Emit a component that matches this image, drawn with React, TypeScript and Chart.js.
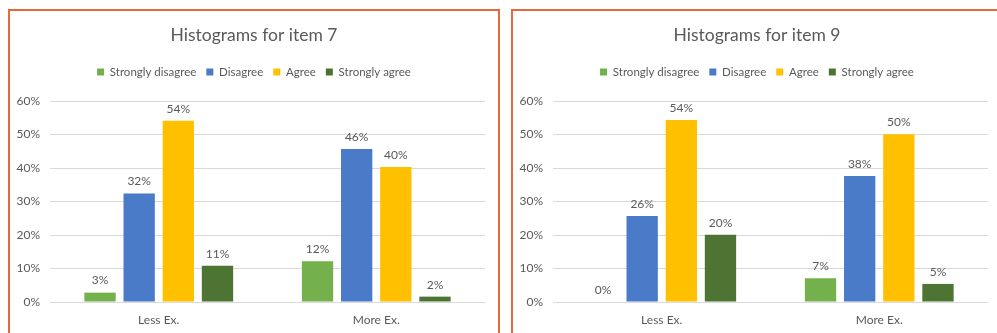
import React, { useEffect, useRef } from 'react';
import { Chart, registerables } from 'chart.js';

Chart.register(...registerables);

const FONT = 'Lato, "Liberation Sans", sans-serif';
const TEXT_COLOR = '#595959';
const GRID_COLOR = '#D9D9D9';
const BORDER_COLOR = '#E4693F';

const categories = ['Less Ex.', 'More Ex.'];
const seriesNames = ['Strongly disagree', 'Disagree', 'Agree', 'Strongly agree'];
const seriesColors = ['#74B04C', '#4A7BC8', '#FFC000', '#4E7433'];
const yTickValues = [0, 10, 20, 30, 40, 50, 60];

// Item 7 (percent)
const item7StronglyDisagree = [2.8, 12.2];
const item7Disagree = [32.4, 45.7];
const item7Agree = [54.1, 40.3];
const item7StronglyAgree = [10.8, 1.6];

// Item 9 (percent)
const item9StronglyDisagree = [0, 7.1];
const item9Disagree = [25.7, 37.6];
const item9Agree = [54.3, 50.1];
const item9StronglyAgree = [20.1, 5.4];

const LEGEND_EXTRA = 13.25;

const dataLabelsPlugin = {
  id: 'dataLabels',
  afterDatasetsDraw(chart: any) {
    const ctx = chart.ctx;
    ctx.save();
    ctx.font = `12px ${FONT}`;
    ctx.fillStyle = TEXT_COLOR;
    ctx.textAlign = 'center';
    ctx.textBaseline = 'bottom';
    chart.data.datasets.forEach((ds: any, i: number) => {
      const meta = chart.getDatasetMeta(i);
      meta.data.forEach((bar: any, j: number) => {
        const v = ds.data[j];
        ctx.fillText(`${Math.round(v)}%`, bar.x, bar.y - 6);
      });
    });
    ctx.restore();
  },
};

const legendSpacerPlugin = {
  id: 'legendSpacer',
  afterInit(chart: any) {
    const leg = chart.legend;
    if (!leg || leg.__patched) return;
    const orig = leg.fit.bind(leg);
    leg.fit = () => {
      orig();
      leg.height += LEGEND_EXTRA;
    };
    leg.__patched = true;
  },
};

function HistogramChart({ title, series }: { title: string; series: number[][] }) {
  const ref = useRef<HTMLCanvasElement | null>(null);
  useEffect(() => {
    if (!ref.current) return;
    const chart = new Chart(ref.current, {
      type: 'bar',
      data: {
        labels: categories,
        datasets: seriesNames.map((name, i) => ({
          label: name,
          data: series[i],
          backgroundColor: seriesColors[i],
          borderWidth: 0,
          categoryPercentage: 0.72,
          barPercentage: 0.8,
        })),
      },
      options: {
        responsive: false,
        animation: false,
        layout: { padding: { left: 0, right: 0, top: 0, bottom: 0 } },
        plugins: {
          title: {
            display: true,
            text: title,
            color: TEXT_COLOR,
            font: { family: FONT, size: 17.5, weight: 'normal' },
            padding: { top: 13.5, bottom: 10.75 },
          },
          legend: {
            display: true,
            position: 'top',
            labels: {
              color: TEXT_COLOR,
              font: { family: FONT, size: 11.5 },
              boxWidth: 7,
              boxHeight: 7,
              padding: 10,
            },
          },
          tooltip: { enabled: false },
        },
        scales: {
          x: {
            grid: { display: false, drawTicks: false },
            border: { display: false },
            ticks: { color: TEXT_COLOR, font: { family: FONT, size: 12 }, padding: 11 },
            afterFit: (s: any) => {
              s.height = 40;
            },
          },
          y: {
            min: 0,
            max: 60,
            grid: { color: GRID_COLOR, drawTicks: false },
            border: { display: false },
            afterBuildTicks: (s: any) => {
              s.ticks = yTickValues.map((v) => ({ value: v }));
            },
            ticks: {
              color: TEXT_COLOR,
              font: { family: FONT, size: 12 },
              padding: 10,
              callback: (v: any) => `${v}%`,
            },
            afterFit: (s: any) => {
              s.width = 40;
            },
          },
          // invisible spacer on the right, keeps the plot's right margin
          ySpacer: {
            type: 'linear',
            position: 'right',
            display: true,
            grid: { display: false, drawTicks: false },
            border: { display: false },
            ticks: { display: false },
            afterFit: (s: any) => {
              s.width = 13;
            },
          },
        },
      },
      plugins: [dataLabelsPlugin, legendSpacerPlugin],
    } as any);
    return () => chart.destroy();
  }, [title, series]);

  return <canvas ref={ref} width={488} height={331} style={{ display: 'block' }} />;
}

const panelStyle = (left: number): React.CSSProperties => ({
  position: 'absolute',
  left,
  top: 9,
  width: 492,
  height: 345,
  boxSizing: 'border-box',
  border: `2px solid ${BORDER_COLOR}`,
  background: '#fff',
});

export default function App() {
  return (
    <div
      style={{
        position: 'fixed',
        left: 0,
        top: 0,
        width: 997,
        height: 333,
        overflow: 'hidden',
        background: '#fff',
      }}
    >
      <div style={panelStyle(8)}>
        <HistogramChart
          title="Histograms for item 7"
          series={[item7StronglyDisagree, item7Disagree, item7Agree, item7StronglyAgree]}
        />
      </div>
      <div style={panelStyle(511)}>
        <HistogramChart
          title="Histograms for item 9"
          series={[item9StronglyDisagree, item9Disagree, item9Agree, item9StronglyAgree]}
        />
      </div>
    </div>
  );
}
